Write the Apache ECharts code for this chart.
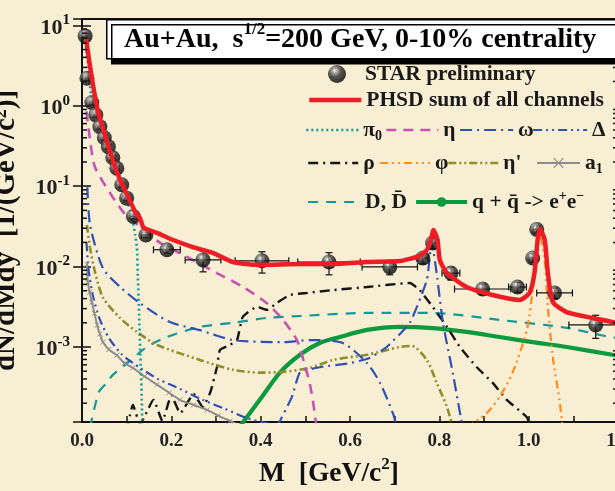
<!DOCTYPE html>
<html>
<head>
<meta charset="utf-8">
<script src="https://cdn.jsdelivr.net/npm/echarts@6/dist/echarts.min.js"></script>
<style>
  html, body { margin: 0; padding: 0; background: #f8eed3; }
  #chart { width: 615px; height: 491px; }
</style>
</head>
<body>
<div id="chart"></div>
<script>
// Dielectron invariant-mass spectrum, Au+Au at sqrt(s)=200 GeV, 0-10% centrality.
// Each channel is a list of [M (GeV/c^2), dN/dMdy] pairs.

const starMass     = [0.007, 0.011, 0.022, 0.031, 0.040, 0.050, 0.059, 0.069, 0.078, 0.089, 0.100, 0.115, 0.143, 0.190, 0.271, 0.403, 0.553, 0.689, 0.763, 0.785, 0.826, 0.897, 0.975, 1.009, 1.018, 1.058, 1.150];
const starYield    = [7.4, 2.2, 1.10, 0.77, 0.55, 0.40, 0.31, 0.226, 0.167, 0.104, 0.071, 0.042, 0.0247, 0.0162, 0.0121, 0.0118, 0.0114, 0.0099, 0.0128, 0.0197, 0.0083, 0.00526, 0.00557, 0.0128, 0.0290, 0.0047, 0.00188];
const starMassErr  = [0.004, 0.004, 0.005, 0.005, 0.005, 0.005, 0.005, 0.005, 0.005, 0.005, 0.005, 0.008, 0.010, 0.030, 0.040, 0.060, 0.070, 0.062, 0.012, 0.010, 0.020, 0.063, 0.020, 0.008, 0.008, 0.040, 0.060];
const starYieldErr = [0.5, 0.15, 0.08, 0.05, 0.035, 0.025, 0.02, 0.015, 0.011, 0.007, 0.005, 0.003, 0.002, 0.0015, 0.0035, 0.0035, 0.0035, 0.002, 0.002, 0.003, 0.0015, 0.0008, 0.0008, 0.0015, 0.003, 0.0007, 0.0006];

const phsdTotal = [[0.009, 6.8], [0.022, 2.22], [0.036, 0.84], [0.056, 0.355], [0.078, 0.150], [0.101, 0.078], [0.123, 0.0438], [0.130, 0.040], [0.137, 0.031], [0.150, 0.0285], [0.168, 0.0262], [0.204, 0.0214], [0.248, 0.0175], [0.293, 0.0148], [0.338, 0.0114], [0.398, 0.0105], [0.488, 0.0108], [0.562, 0.0108], [0.638, 0.0114], [0.711, 0.0117], [0.756, 0.0136], [0.772, 0.0161], [0.781, 0.0214], [0.787, 0.0285], [0.796, 0.0214], [0.801, 0.0121], [0.817, 0.0083], [0.861, 0.00557], [0.919, 0.00443], [0.980, 0.00385], [1.002, 0.0047], [1.013, 0.0083], [1.020, 0.0214], [1.025, 0.0295], [1.036, 0.0214], [1.043, 0.0083], [1.054, 0.00363], [1.085, 0.00272], [1.143, 0.00229], [1.199, 0.00199]];

const pi0Dalitz = [[0.009, 5.5], [0.020, 1.4], [0.030, 0.78], [0.040, 0.53], [0.050, 0.39], [0.060, 0.29], [0.070, 0.21], [0.080, 0.155], [0.090, 0.10], [0.100, 0.068], [0.108, 0.050], [0.114, 0.036], [0.119, 0.025], [0.123, 0.017], [0.125, 0.0075], [0.128, 0.0025], [0.130, 0.001], [0.132, 0.0005], [0.134, 0.0002], [0.135, 0.0001]];
const etaDalitz = [[0.010, 0.85], [0.018, 0.376], [0.029, 0.173], [0.063, 0.082], [0.092, 0.048], [0.112, 0.038], [0.175, 0.0197], [0.235, 0.0132], [0.302, 0.0083], [0.360, 0.0056], [0.414, 0.0035], [0.450, 0.00217], [0.481, 0.00122], [0.497, 0.00065], [0.510, 0.00035], [0.519, 0.00018], [0.525, 0.0001]];
const omegaDalitz = [[0.012, 0.10], [0.018, 0.033], [0.047, 0.0095], [0.085, 0.0056], [0.130, 0.0035], [0.197, 0.00204], [0.264, 0.00162], [0.338, 0.00122], [0.450, 0.00115], [0.510, 0.00122], [0.584, 0.00112], [0.638, 0.00063], [0.667, 0.00036], [0.696, 0.00015], [0.705, 0.0001]];
const omegaDirect = [[0.436, 0.0001], [0.470, 0.00024], [0.488, 0.00048], [0.532, 0.00056], [0.600, 0.00063], [0.644, 0.00073], [0.682, 0.001], [0.734, 0.002], [0.772, 0.0068], [0.783, 0.020], [0.794, 0.0083], [0.808, 0.002], [0.830, 0.00048], [0.852, 0.0001]];
const deltaDalitz = [[0.010, 0.02], [0.015, 0.009], [0.025, 0.0042], [0.040, 0.0022], [0.060, 0.0013], [0.090, 0.0008], [0.130, 0.00055], [0.170, 0.0004], [0.220, 0.0003], [0.270, 0.00022], [0.320, 0.00017], [0.370, 0.00013], [0.420, 0.00011], [0.440, 0.0001]];
const rhoMeson = [[0.100, 0.00009], [0.114, 0.00019], [0.130, 0.00011], [0.160, 0.00022], [0.180, 0.00012], [0.200, 0.00025], [0.220, 0.00015], [0.250, 0.00026], [0.270, 0.00018], [0.287, 0.00027], [0.302, 0.00056], [0.309, 0.00092], [0.331, 0.00106], [0.347, 0.00122], [0.360, 0.00236], [0.392, 0.00316], [0.414, 0.0029], [0.436, 0.00352], [0.465, 0.00443], [0.503, 0.0047], [0.562, 0.0051], [0.638, 0.00557], [0.734, 0.00625], [0.756, 0.0051], [0.785, 0.00316], [0.817, 0.00178], [0.846, 0.001], [0.884, 0.00056], [0.919, 0.00036], [0.951, 0.00022], [0.996, 0.000134], [1.004, 0.0001]];
const phiMeson = [[0.861, 0.0001], [0.906, 0.00015], [0.935, 0.00024], [0.964, 0.00048], [0.996, 0.00163], [1.009, 0.0051], [1.018, 0.0132], [1.025, 0.0245], [1.036, 0.012], [1.043, 0.00316], [1.054, 0.00075], [1.069, 0.00022], [1.076, 0.0001]];
const etaPrime = [[0.011, 0.033], [0.018, 0.017], [0.029, 0.0086], [0.047, 0.0041], [0.085, 0.0023], [0.123, 0.00154], [0.168, 0.00106], [0.264, 0.00069], [0.338, 0.00052], [0.398, 0.00048], [0.450, 0.00049], [0.510, 0.00055], [0.562, 0.00069], [0.638, 0.0008], [0.711, 0.001], [0.738, 0.00103], [0.772, 0.00069], [0.794, 0.00036], [0.817, 0.00018], [0.830, 0.0001]];
const a1Meson = [[0.011, 0.0107], [0.013, 0.0064], [0.017, 0.0048], [0.022, 0.0036], [0.028, 0.0026], [0.034, 0.00187], [0.040, 0.00145], [0.047, 0.00115], [0.060, 0.00093], [0.078, 0.00079], [0.095, 0.00063], [0.114, 0.00055], [0.140, 0.00043], [0.168, 0.00034], [0.195, 0.00027], [0.219, 0.00022], [0.250, 0.00019], [0.280, 0.000165], [0.305, 0.00014], [0.331, 0.00012], [0.345, 0.00011]];
const openCharm = [[0.018, 0.0001], [0.038, 0.000276], [0.056, 0.00036], [0.069, 0.00045], [0.101, 0.00063], [0.145, 0.001], [0.190, 0.00133], [0.264, 0.00178], [0.338, 0.002], [0.414, 0.0023], [0.488, 0.00243], [0.638, 0.00265], [0.785, 0.00265], [0.935, 0.00217], [1.085, 0.00173], [1.181, 0.00133], [1.200, 0.0013]];
const qqbar = [[0.352, 0.0001], [0.398, 0.00022], [0.443, 0.00048], [0.488, 0.0008], [0.532, 0.00112], [0.577, 0.00133], [0.638, 0.00163], [0.711, 0.00178], [0.785, 0.00172], [0.861, 0.00154], [0.935, 0.00133], [1.009, 0.00115], [1.085, 0.001], [1.188, 0.0008], [1.200, 0.00078]];

const xTickLabels = ['0.0', '0.2', '0.4', '0.6', '0.8', '1.0', '1.2'];
const yDecades = [-3, -2, -1, 0, 1];
const yMinorTicks = [];
for (let e = -4; e <= 0; e++) {
  for (let k = 2; k <= 9; k++) yMinorTicks.push(k * Math.pow(10, e));
}

const SERIF = '"Liberation Serif", "DejaVu Serif", serif';
const Y_MIN = 1.167e-4, Y_MAX = 12.0, X_MAX = 1.2;

const supStyle = { fontSize: 14, fontWeight: 'bold', fontFamily: SERIF, lineHeight: 14, verticalAlign: 'top', color: '#111' };
const subStyle = { fontSize: 14, fontWeight: 'bold', fontFamily: SERIF, lineHeight: 14, verticalAlign: 'bottom', color: '#111' };

const sphere = {
  type: 'radial', x: 0.38, y: 0.32, r: 0.7,
  colorStops: [
    { offset: 0, color: '#ffffff' },
    { offset: 0.18, color: '#9a9a9a' },
    { offset: 0.5, color: '#2a2a2a' },
    { offset: 1, color: '#000000' }
  ]
};

const C = {
  red: '#ee1c25', teal: '#0f9a9a', magenta: '#c752b5', blue: '#3150b5',
  black: '#151515', orange: '#ff8a1e', olive: '#8e8e2c', grey: '#8c8c8c', green: '#0c9a3e'
};

function lineSeries(name, data, color, width, dash, extra) {
  return Object.assign({
    type: 'line', name: name, data: data, symbol: 'none', smooth: 0.25,
    clip: true, z: 3,
    lineStyle: { color: color, width: width, type: dash },
    itemStyle: { color: color }
  }, extra || {});
}

const crossPath = 'path://M0,0L10,10M10,0L0,10';

const series = [
  lineSeries('D, D\u0304', openCharm, C.teal, 2.2, [10, 8]),
  lineSeries('qq', qqbar, C.green, 4.2, 'solid', { symbol: 'circle', symbolSize: 6, showSymbol: false }),
  lineSeries('ρ', rhoMeson, C.black, 2.4, [10, 5, 2, 5], { smooth: 0.15 }),
  lineSeries('φ', phiMeson, C.orange, 2.2, [8, 4, 2, 4, 2, 4]),
  lineSeries('η\'', etaPrime, C.olive, 2.6, [8, 3, 2, 3, 2, 3]),
  lineSeries('a1', a1Meson, C.grey, 2, 'solid', {
    symbol: crossPath, symbolSize: 5, showSymbol: true,
    itemStyle: { color: 'rgba(0,0,0,0)', borderColor: C.grey, borderWidth: 1 }
  }),
  lineSeries('Δ', deltaDalitz, C.blue, 2.2, [9, 4, 2, 4, 2, 4]),
  lineSeries('ω', omegaDalitz, C.blue, 2.2, [12, 5, 2, 5]),
  lineSeries('ω', omegaDirect, C.blue, 2.2, [12, 5, 2, 5], { smooth: 0.15 }),
  lineSeries('η', etaDalitz, C.magenta, 2.6, [10, 7]),
  lineSeries('π0', pi0Dalitz, C.teal, 2.6, [2, 3], { smooth: 0.15 }),
  {
    type: 'scatter', name: 'STAR preliminary', z: 5,
    data: starMass.map((m, i) => [m, starYield[i]]),
    symbol: 'circle', symbolSize: 15,
    itemStyle: { color: sphere }
  },
  {
    type: 'custom', name: 'STAR preliminary', z: 4, clip: false,
    data: starMass.map((m, i) => [m, starYield[i], starMassErr[i], starYieldErr[i]]),
    encode: { x: 0, y: 1 },
    renderItem: function (params, api) {
      const m = api.value(0), v = api.value(1), dm = api.value(2), dv = api.value(3);
      const l = api.coord([m - dm, v]), r = api.coord([m + dm, v]);
      const t = api.coord([m, v + dv]), b = api.coord([m, Math.max(v - dv, 1e-6)]);
      const st = { stroke: '#111', lineWidth: 1.2 };
      const cap = 3.5;
      return {
        type: 'group',
        children: [
          { type: 'line', shape: { x1: l[0], y1: l[1], x2: r[0], y2: r[1] }, style: st },
          { type: 'line', shape: { x1: l[0], y1: l[1] - cap, x2: l[0], y2: l[1] + cap }, style: st },
          { type: 'line', shape: { x1: r[0], y1: r[1] - cap, x2: r[0], y2: r[1] + cap }, style: st },
          { type: 'line', shape: { x1: t[0], y1: t[1], x2: b[0], y2: b[1] }, style: st },
          { type: 'line', shape: { x1: t[0] - cap, y1: t[1], x2: t[0] + cap, y2: t[1] }, style: st },
          { type: 'line', shape: { x1: b[0] - cap, y1: b[1], x2: b[0] + cap, y2: b[1] }, style: st }
        ]
      };
    }
  },
  lineSeries('PHSD sum of all channels', phsdTotal, C.red, 4.5, 'solid', { z: 6, smooth: 0.2 }),
  {
    // minor ticks of the logarithmic axis (2..9 x 10^n), on both vertical frame edges
    type: 'custom', name: 'minorTicks', z: 7, clip: false, silent: true,
    data: yMinorTicks.map(v => [0, v]),
    encode: { x: 0, y: 1 },
    renderItem: function (params, api) {
      const v = api.value(1);
      const pl = api.coord([0, v]), pr = api.coord([X_MAX, v]);
      const st = { stroke: '#111', lineWidth: 1.5 };
      return {
        type: 'group',
        children: [
          { type: 'line', shape: { x1: pl[0], y1: pl[1], x2: pl[0] + 5, y2: pl[1] }, style: st },
          { type: 'line', shape: { x1: pr[0], y1: pr[1], x2: pr[0] - 5, y2: pr[1] }, style: st }
        ]
      };
    }
  }
];

// legend entries: one component per entry, laid out in rows inside the frame
const hidden = { color: 'rgba(0,0,0,0)', borderWidth: 0, opacity: 0 };
const legendRows = [
  { name: 'STAR preliminary', text: 'STAR preliminary', x: 328, cy: 74, w: 46, h: 18, icon: 'circle' },
  { name: 'PHSD sum of all channels', text: 'PHSD sum of all channels', x: 307, cy: 100, w: 52, line: { color: C.red, width: 4.5, type: 'solid' } },
  { name: 'π0', text: 'π{sub|0}', x: 305, cy: 130, w: 52, line: { color: C.teal, width: 2.6, type: [2, 3] } },
  { name: 'η', text: 'η', x: 385, cy: 130, w: 52, line: { color: C.magenta, width: 2.6, type: [10, 7] } },
  { name: 'ω', text: 'ω', x: 459, cy: 130, w: 53, line: { color: C.blue, width: 2.2, type: [12, 5, 2, 5] } },
  { name: 'Δ', text: 'Δ', x: 532, cy: 130, w: 54, line: { color: C.blue, width: 2.2, type: [9, 4, 2, 4, 2, 4] } },
  { name: 'ρ', text: 'ρ', x: 307, cy: 163, w: 50, line: { color: C.black, width: 2.4, type: [10, 5, 2, 5] } },
  { name: 'φ', text: 'φ', x: 379, cy: 163, w: 50, line: { color: C.orange, width: 2.2, type: [8, 4, 2, 4, 2, 4] } },
  { name: 'η\'', text: 'η\'', x: 447, cy: 163, w: 50, line: { color: C.olive, width: 2.6, type: [8, 3, 2, 3, 2, 3] } },
  { name: 'a1', text: 'a{sub|1}', x: 536, cy: 163, w: 43, line: { color: C.grey, width: 2, type: 'solid' }, mark: { color: 'rgba(0,0,0,0)', borderColor: C.grey, borderWidth: 1.2 } },
  { name: 'D, D\u0304', text: 'D, D\u0304', x: 307, cy: 202, w: 52, line: { color: C.teal, width: 2.2, type: [10, 8] } },
  { name: 'qq', text: 'q + q\u0304 -> e{sup|+}e{sup|\u2212}', x: 414, cy: 202, w: 51, line: { color: C.green, width: 4.2, type: 'solid' }, mark: { color: C.green, borderWidth: 0 } }
];
const legends = legendRows.map(row => {
  const lg = {
    show: true, data: [row.name], left: row.x, top: row.cy - 13, padding: 0,
    itemGap: 0, itemWidth: row.w, itemHeight: row.h || 12,
    selectedMode: false,
    formatter: () => row.text,
    textStyle: {
      fontFamily: SERIF, fontWeight: 'bold', fontSize: 21.5, color: '#1a1a1a', lineHeight: 26,
      rich: { sub: subStyle, sup: supStyle }
    }
  };
  if (row.line) {
    lg.lineStyle = row.line;
    lg.itemStyle = row.mark || hidden;
  }
  if (row.icon) lg.icon = row.icon;
  return lg;
});

const chart = echarts.init(document.getElementById('chart'), null, { renderer: 'canvas' });
chart.setOption({
  backgroundColor: '#f8eed3',
  animation: false,
  textStyle: { fontFamily: SERIF },
  grid: { left: 82, top: 19, width: 536, height: 403, containLabel: false, outerBoundsMode: 'none' },
  legend: legends,
  xAxis: [
    {
      type: 'value', min: 0, max: X_MAX, interval: 0.1, position: 'bottom',
      name: 'M  [GeV/c{sup|2}]', nameLocation: 'middle', nameGap: 30,
      nameTextStyle: {
        fontFamily: SERIF, fontWeight: 'bold', fontSize: 27.5, color: '#111', lineHeight: 35,
        padding: [0, 42, 0, 0],
        rich: { sup: Object.assign({}, supStyle, { fontSize: 17, lineHeight: 17 }) }
      },
      axisLine: { show: true, lineStyle: { color: '#111', width: 2 } },
      axisTick: { show: true, inside: true, length: 6, lineStyle: { color: '#111', width: 1.5 } },
      splitLine: { show: false },
      axisLabel: {
        margin: 10, fontFamily: SERIF, fontWeight: 'bold', fontSize: 19, color: '#222',
        formatter: v => {
          const k = Math.round(v * 10);
          return k % 2 === 0 ? xTickLabels[k / 2] : '';
        }
      }
    },
    {
      type: 'value', min: 0, max: X_MAX, interval: 0.1, position: 'top',
      axisLine: { show: true, lineStyle: { color: '#111', width: 2 } },
      axisTick: { show: true, inside: true, length: 5, lineStyle: { color: '#111', width: 1.5 } },
      axisLabel: { show: false }, splitLine: { show: false }
    }
  ],
  yAxis: [
    {
      type: 'log', logBase: 10, min: Y_MIN, max: Y_MAX, position: 'left',
      name: 'dN/dMdy  [1/(GeV/c{sup|2})]', nameLocation: 'middle', nameRotate: 90, nameGap: 60,
      nameTextStyle: {
        fontFamily: SERIF, fontWeight: 'bold', fontSize: 29, color: '#111', lineHeight: 30,
        padding: [0, 20, 0, 0],
        rich: { sup: Object.assign({}, supStyle, { fontSize: 18, lineHeight: 18 }) }
      },
      axisLine: { show: true, lineStyle: { color: '#111', width: 2 } },
      axisTick: { show: true, inside: true, length: 9, lineStyle: { color: '#111', width: 1.5 } },
      splitLine: { show: false },
      axisLabel: {
        margin: 12, fontFamily: SERIF, fontWeight: 'bold', fontSize: 22, color: '#222', lineHeight: 30,
        padding: [5, 0, 0, 0],
        formatter: v => {
          const e = Math.log10(v), r = Math.round(e);
          if (Math.abs(e - r) > 1e-6 || yDecades.indexOf(r) < 0) return '';
          return '10{sup|' + r + '}';
        },
        rich: { sup: Object.assign({}, supStyle, { fontSize: 15, lineHeight: 15 }) }
      }
    },
    {
      type: 'log', logBase: 10, min: Y_MIN, max: Y_MAX, position: 'right',
      axisLine: { show: true, lineStyle: { color: '#111', width: 2 } },
      axisTick: { show: true, inside: true, length: 9, lineStyle: { color: '#111', width: 1.5 } },
      axisLabel: { show: false }, splitLine: { show: false }
    }
  ],
  series: series,
  graphic: [
    {
      type: 'rect', left: 106, top: 19, z: 20,
      shape: { x: 0, y: 0, width: 540, height: 39 },
      style: { fill: '#ffffff', stroke: '#000', lineWidth: 1.5, shadowBlur: 0, shadowOffsetX: 5, shadowOffsetY: 5, shadowColor: '#000' }
    },
    {
      type: 'text', left: 124, top: 21, z: 21,
      style: {
        text: 'Au+Au,  s{sup|1/2}=200 GeV, 0-10% centrality',
        fontFamily: SERIF, fontWeight: 'bold', fontSize: 28, lineHeight: 38, fill: '#000',
        rich: { sup: { fontFamily: SERIF, fontWeight: 'bold', fontSize: 17, lineHeight: 17, verticalAlign: 'top', fill: '#000' } }
      }
    }
  ]
});
</script>
</body>
</html>
